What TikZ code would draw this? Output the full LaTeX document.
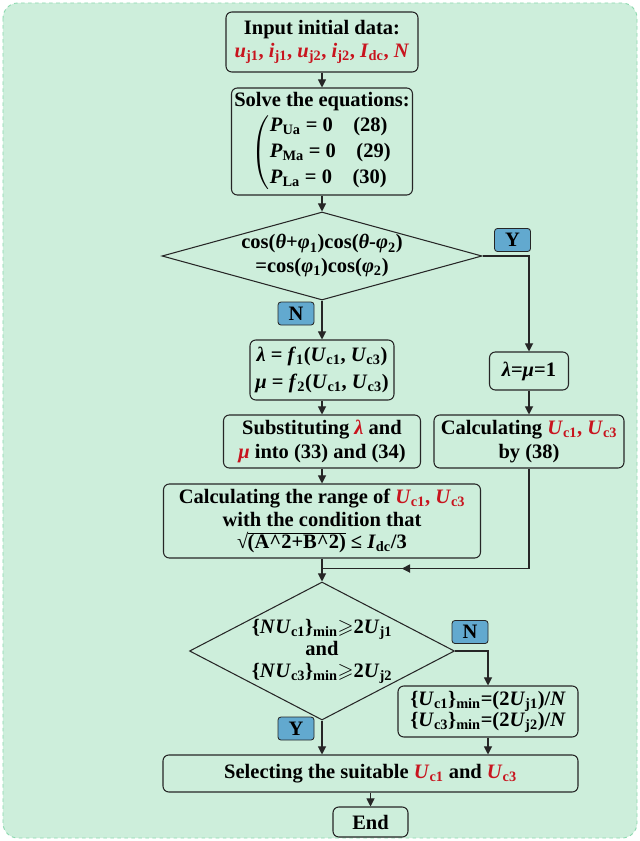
\documentclass[tikz,border=0pt]{standalone}
\usepackage{fontspec}
\usepackage{amssymb}
\usepackage{xcolor}
\setmainfont{Liberation Serif}
\usetikzlibrary{
    positioning,      % For placing the tags relative to the decisions
    shapes.geometric, % For the 'diamond' decision shapes
    arrows.meta,      % For modern arrow tips like 'Triangle'
    decorations.markings % For the arrow tip in the middle of the merge line
}
\definecolor{PanelFill}{HTML}{CDEEDB}
\definecolor{PanelBorder}{HTML}{8CD9AF}
\definecolor{BorderColor}{HTML}{262626}
\definecolor{TagFill}{HTML}{62A9CF}
\definecolor{EmphRed}{HTML}{C8141E}

% italic variable with an upright subscript
\newcommand{\vr}[2]{\textit{#1}\textsubscript{#2}}
% red highlighted text
\newcommand{\hl}[1]{\textcolor{EmphRed}{#1}}
% text radical with a thin bar over its argument
\newcommand{\txtroot}[1]{{\mdseries √}\kern-0.6pt\vbox{\hrule height 0.6pt\kern 0.4pt\hbox{#1}}}

\begin{document}
\begin{tikzpicture}[
    % Set the default font to a bold serif to match the image
    font=\bfseries\fontsize{17.5}{20}\selectfont,
]
    % --- Define TikZ styles for diagram elements ---
    \tikzset{
        % Style for the process blocks
        block/.style={
            shape=rectangle,
            rounded corners=5pt,
            draw=BorderColor,
            line width=0.9pt,
            align=center,
            inner sep=1pt,
        },
        % Style for the decision diamonds
        decision/.style={
            shape=diamond,
            draw=BorderColor,
            line width=0.9pt,
            inner sep=0pt,
        },
        % Style for the small Y / N tags
        tag/.style={
            shape=rectangle,
            rounded corners=2.5pt,
            draw=BorderColor,
            line width=0.7pt,
            fill=TagFill,
            minimum width=1.08cm,
            minimum height=0.69cm,
            inner sep=0pt,
        },
        % Style for the arrows connecting the blocks
        arrow/.style={
            draw=BorderColor,
            line width=0.9pt,
            -{Triangle[length=7pt,width=7pt]}
        },
        % Style for plain connecting lines
        line/.style={
            draw=BorderColor,
            line width=0.9pt,
        }
    }

    % --- Background panel ---
    \useasboundingbox (0,0) rectangle (19.2,-25.23);
    \draw[fill=PanelFill, draw=PanelBorder, dashed, line width=0.8pt,
          rounded corners=0.45cm] (0.09,-0.09) rectangle (19.11,-25.14);

    % --- Place the diagram elements ---

    % 1. Main column
    \node[block, minimum width=5.76cm, minimum height=1.8cm] (input) at (9.66,-1.26)
        {Input initial data:\\ \hl{\vr{u}{j1}, \vr{i}{j1}, \vr{u}{j2}, \vr{i}{j2}, \vr{I}{dc}, \textit{N}}};
    \node[block, minimum width=5.43cm, minimum height=3.21cm] (solve) at (9.66,-4.245)
        {Solve the equations:\\[2pt]
         \delimiterfactor=850 \delimitershortfall=16pt
         $\left(\vcenter{\hbox{\renewcommand{\arraystretch}{1.1}%
           \begin{tabular}{@{}l@{}}
             \vr{P}{Ua} = 0\quad(28)\\
             \vr{P}{Ma} = 0\quad(29)\\
             \vr{P}{La} = 0\quad(30)
           \end{tabular}}}\right.$\hspace{1.2em}};
    \node[decision, minimum width=9.6cm, minimum height=2.64cm] (check) at (9.66,-7.68)
        {\makebox[0pt]{\renewcommand{\arraystretch}{1.0}%
          \begin{tabular}{@{}c@{}}
            cos(\textit{θ}+\textit{φ}\textsubscript{1})cos(\textit{θ}-\textit{φ}\textsubscript{2})\\
            =cos(\textit{φ}\textsubscript{1})cos(\textit{φ}\textsubscript{2})
          \end{tabular}}};
    \node[block, minimum width=4.32cm, minimum height=1.8cm] (lambda) at (9.66,-11.1)
        {\textit{λ} = \textit{f}\textsubscript{1}(\vr{U}{c1}, \vr{U}{c3})\\[3pt]
         \textit{μ} = \textit{f}\textsubscript{2}(\vr{U}{c1}, \vr{U}{c3})};
    \node[block, minimum width=5.91cm, minimum height=1.59cm] (subst) at (9.66,-13.245)
        {Substituting \hl{\textit{λ}} and\\ \hl{\textit{μ}} into (33) and (34)};
    \node[block, minimum width=9.51cm, minimum height=2.22cm] (range) at (9.66,-15.63)
        {Calculating the range of \hl{\vr{U}{c1}, \vr{U}{c3}}\\[-1pt]
         with the condition that\\[-1pt]
         \txtroot{(A\textasciicircum2+B\textasciicircum2)} ≤ \vr{I}{dc}/3};
    \node[decision, minimum width=7.95cm, minimum height=4.14cm] (limit) at (9.66,-19.53)
        {\makebox[0pt]{\renewcommand{\arraystretch}{0.95}%
          \begin{tabular}{@{}c@{}}
            \{\textit{N}\vr{U}{c1}\}\textsubscript{min}$\geqslant$2\vr{U}{j1}\\
            and\\
            \{\textit{N}\vr{U}{c3}\}\textsubscript{min}$\geqslant$2\vr{U}{j2}
          \end{tabular}}};
    \node[block, minimum width=12.45cm, minimum height=1.11cm] (select) at (11.115,-23.205)
        {Selecting the suitable \hl{\vr{U}{c1}} and \hl{\vr{U}{c3}}};
    \node[block, minimum width=2.25cm, minimum height=0.9cm] (end) at (11.115,-24.66) {End};

    % 2. Right-hand branch
    \node[block, minimum width=2.37cm, minimum height=1.14cm] (unity) at (15.87,-11.13)
        {\textit{λ}=\textit{μ}=1};
    \node[block, minimum width=5.7cm, minimum height=1.59cm] (direct) at (15.87,-13.245)
        {Calculating \hl{\vr{U}{c1}, \vr{U}{c3}}\\ by (38)};
    \node[block, minimum width=5.4cm, minimum height=1.53cm] (lower) at (14.64,-21.345)
        {\{\vr{U}{c1}\}\textsubscript{min}=(2\vr{U}{j1})/\textit{N}\\[-2pt]
         \{\vr{U}{c3}\}\textsubscript{min}=(2\vr{U}{j2})/\textit{N}};

    % 3. Y / N tags
    \node[tag] (yes1) at ([shift={(0.9,0.48)}]check.east) {Y};
    \node[tag] (no1) at ([shift={(-0.78,-0.39)}]check.south) {N};
    \node[tag] (no2) at ([shift={(0.45,0.57)}]limit.east) {N};
    \node[tag] (yes2) at ([shift={(-0.78,-0.24)}]limit.south) {Y};

    % merge point below the range block
    \coordinate (join) at ([yshift=-0.3cm]range.south);

    % 4. Draw the arrows connecting the blocks
    \draw[arrow] (input.south) -- (solve.north);
    \draw[arrow] (solve.south) -- (check.north);
    \draw[arrow] (check.south) -- (lambda.north);
    \draw[arrow] (lambda.south) -- (subst.north);
    \draw[arrow] (subst.south) -- (range.north);
    \draw[arrow] (range.south) -- (limit.north);
    \draw[arrow] (check.east) -| (unity.north);
    \draw[arrow] (unity.south) -- (direct.north);
    \draw[line, postaction={decorate, decoration={markings,
          mark=at position 0.74 with {\arrow{Triangle[length=7pt,width=7pt]}}}}]
        (direct.south) |- (join);
    \draw[arrow] (limit.east) -| (lower.north);
    \draw[arrow] (limit.south) -- (limit.south |- select.north);
    \draw[arrow] (lower.south) -- (lower.south |- select.north);
    \draw[arrow] (select.south) -- (end.north);

\end{tikzpicture}
\end{document}
